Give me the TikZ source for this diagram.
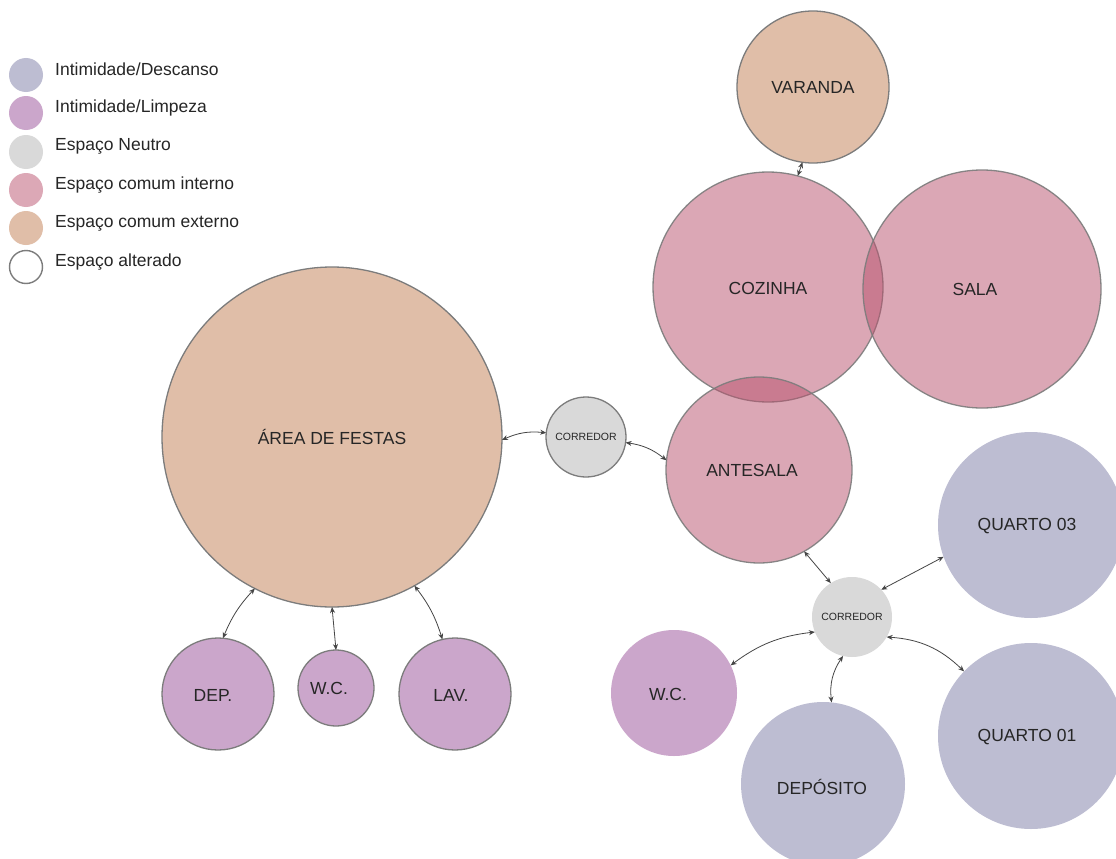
\documentclass[tikz,border=0pt]{standalone}
\usepackage{fontspec}
\setmainfont{Liberation Sans}
\usetikzlibrary{arrows.meta}
\definecolor{descanso}{HTML}{BDBDD2}
\definecolor{limpeza}{HTML}{CBA6CB}
\definecolor{neutro}{HTML}{D9D9D9}
\definecolor{interno}{HTML}{DCA8B6}
\definecolor{internobase}{RGB}{185,81,109}
\definecolor{externo}{HTML}{E0BEA8}
\definecolor{ringgray}{HTML}{7C7C7C}
\definecolor{arrowgray}{HTML}{454545}
\definecolor{labelgray}{HTML}{262626}
\begin{document}
\begin{tikzpicture}[x=1pt,y=-1pt,
  bubble/.style={circle,inner sep=0pt,outer sep=0pt},
  ringed/.style={draw=ringgray,line width=1.3pt},
  extroom/.style={bubble,ringed,fill=externo},
  introom/.style={bubble,draw=ringgray,draw opacity=0.9,line width=1.3pt,fill=internobase,fill opacity=0.5},
  neutroring/.style={bubble,ringed,fill=neutro},
  neutroplain/.style={bubble,fill=neutro},
  descroom/.style={bubble,fill=descanso},
  limproom/.style={bubble,fill=limpeza},
  limpring/.style={bubble,ringed,fill=limpeza},
  lbl/.style={inner sep=0pt,text=labelgray,font=\fontsize{17.5}{20}\selectfont},
  smalllbl/.style={inner sep=0pt,text=labelgray,font=\fontsize{10.5}{12}\selectfont},
  legtext/.style={inner sep=0pt,anchor=west,text=labelgray,font=\fontsize{17.5}{20}\selectfont},
  legdot/.style={circle,inner sep=0pt,minimum size=34pt},
  conn/.style={{Stealth[length=6pt,width=5pt]}-{Stealth[length=6pt,width=5pt]},draw=arrowgray,line width=0.8pt}
]
\clip (0,0) rectangle (1116,859);
\fill[white] (0,0) rectangle (1116,859);

% legend
\node[legdot,fill=descanso] (leg1) at (26,75) {};
\node[legdot,fill=limpeza] (leg2) at (26,113) {};
\node[legdot,fill=neutro] (leg3) at (26,152) {};
\node[legdot,fill=interno] (leg4) at (26,190) {};
\node[legdot,fill=externo] (leg5) at (26,228) {};
\node[legdot,draw=ringgray,line width=1.4pt,fill=white,minimum size=33pt] (leg6) at (26,267) {};
\node[legtext] (leg1T) at (55,69) {Intimidade/Descanso};
\node[legtext] (leg2T) at (55,108) {Intimidade/Limpeza};
\node[legtext] (leg3T) at (55,146) {Espaço Neutro};
\node[legtext] (leg4T) at (55,185) {Espaço comum interno};
\node[legtext] (leg5T) at (55,223) {Espaço comum externo};
\node[legtext] (leg6T) at (55,262) {Espaço alterado};

% social block
\node[extroom,minimum size=152pt] (varanda) at (813,87) {};
\node[introom,minimum size=230pt] (cozinha) at (768,287) {};
\node[introom,minimum size=238pt] (sala) at (982,289) {};
\node[introom,minimum size=186pt] (antesala) at (759,470) {};
\node[extroom,minimum size=340pt] (festas) at (332,437) {};
\node[neutroring,minimum size=80pt] (corrA) at (586,437) {};

% private block
\node[neutroplain,minimum size=80pt] (corrB) at (852,617) {};
\node[descroom,minimum size=186pt] (q3) at (1031,525) {};
\node[descroom,minimum size=186pt] (q1) at (1031,736) {};
\node[descroom,minimum size=164pt] (deposito) at (823,784) {};
\node[limproom,minimum size=126pt] (wcB) at (674,693) {};

% service block
\node[limpring,minimum size=112pt] (dep) at (218,694) {};
\node[limpring,minimum size=76pt] (wcA) at (336,688) {};
\node[limpring,minimum size=112pt] (lav) at (455,694) {};

% labels
\node[lbl] (varandaT) at (813,87) {VARANDA};
\node[lbl] (cozinhaT) at (768,288) {COZINHA};
\node[lbl] (salaT) at (975,289) {SALA};
\node[lbl] (antesalaT) at (752,470) {ANTESALA};
\node[lbl] (festasT) at (332,437) {ÁREA DE FESTAS};
\node[smalllbl] (corrAT) at (586,437) {CORREDOR};
\node[smalllbl] (corrBT) at (852,617) {CORREDOR};
\node[lbl] (q3T) at (1027,526) {QUARTO 03};
\node[lbl] (q1T) at (1027,737) {QUARTO 01};
\node[lbl] (depositoT) at (822,787) {DEPÓSITO};
\node[lbl] (wcBT) at (668,694) {W.C.};
\node[lbl] (depT) at (213,695) {DEP.};
\node[lbl] (wcAT) at (329,688) {W.C.};
\node[lbl] (lavT) at (451,695) {LAV.};

% connections
\draw[conn] (varanda.262) -- (cozinha.75);
\draw[conn] (festas.-1) to[bend left=15] (corrA.174);
\draw[conn] (corrA.-8) to[bend left=15] (antesala.174);
\draw[conn] (antesala.-61) -- (corrB.122);
\draw[conn] (corrB.43) -- (q3.200);
\draw[conn] (corrB.202) to[bend right=15] (wcB.26);
\draw[conn] (corrB.257) to[bend right=20] (deposito.84);
\draw[conn] (corrB.-30) to[bend left=20] (q1.136);
\draw[conn] (festas.243) to[bend right=10] (dep.85);
\draw[conn] (festas.270) -- (wcA.90);
\draw[conn] (festas.-61) to[bend left=10] (lav.103);
\end{tikzpicture}
\end{document}
